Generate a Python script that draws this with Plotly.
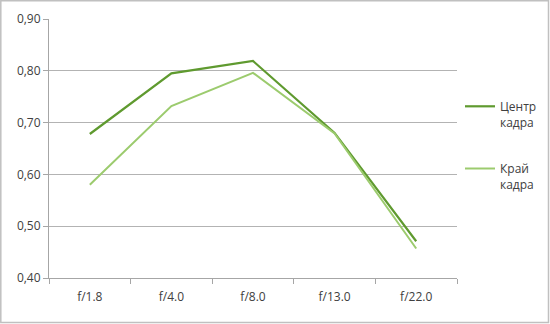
import plotly.graph_objects as go

categories = ["f/1.8", "f/4.0", "f/8.0", "f/13.0", "f/22.0"]
center_vals = [0.678, 0.795, 0.819, 0.680, 0.471]
edge_vals = [0.580, 0.732, 0.796, 0.679, 0.457]
y_ticks = [0.4, 0.5, 0.6, 0.7, 0.8, 0.9]
y_labels = ["0,40", "0,50", "0,60", "0,70", "0,80", "0,90"]

PW, PH = 408, 259
fig = go.Figure()
fig.add_trace(go.Scatter(x=categories, y=center_vals, mode="lines", legendgroup="c",
                         name="Центр<br>кадра", line=dict(color="#5f9a2f", width=2.2)))
fig.add_trace(go.Scatter(x=categories, y=edge_vals, mode="lines", legendgroup="e",
                         name="Край<br>кадра", line=dict(color="#9ccb6e", width=2)))

fig.update_layout(
    width=550, height=324,
    margin=dict(l=49, r=93, t=19, b=46, autoexpand=False),
    paper_bgcolor="white", plot_bgcolor="white",
    font=dict(family="Open Sans, Arial", size=12, color="#404040"),
    legend=dict(xref="container", yref="container",
                x=460 / 550, y=1 - 92 / 324, xanchor="left", yanchor="top",
                tracegroupgap=28, itemwidth=30, traceorder="grouped", valign="top",
                font=dict(size=12, color="#404040"),
                bgcolor="rgba(0,0,0,0)"),
    showlegend=True,
)
fig.update_xaxes(type="category", range=[-0.5, 4.5], showline=True,
                 linecolor="#a6a6a6", linewidth=1, ticks="outside",
                 tickson="boundaries", ticklen=5, tickcolor="#a6a6a6",
                 ticklabelstandoff=8,
                 showgrid=False, tickfont=dict(size=12, color="#404040"))
fig.update_yaxes(range=[0.4, 0.9], tickvals=y_ticks, ticktext=y_labels,
                 showgrid=True, gridcolor="#b3b3b3", gridwidth=1,
                 showline=True, linecolor="#a6a6a6", linewidth=1,
                 ticks="outside", ticklen=5, tickcolor="#a6a6a6",
                 zeroline=False, tickfont=dict(size=12, color="#404040"))

# outer border of the chart area
fig.add_shape(type="rect", xref="paper", yref="paper",
              x0=(0.8 - 49) / PW, x1=(548.5 - 49) / PW,
              y0=-(322.5 - 278) / PH, y1=1 + (19 - 0.8) / PH,
              line=dict(color="#c0c0c0", width=1.5), layer="below")

fig.write_html("out.html")
